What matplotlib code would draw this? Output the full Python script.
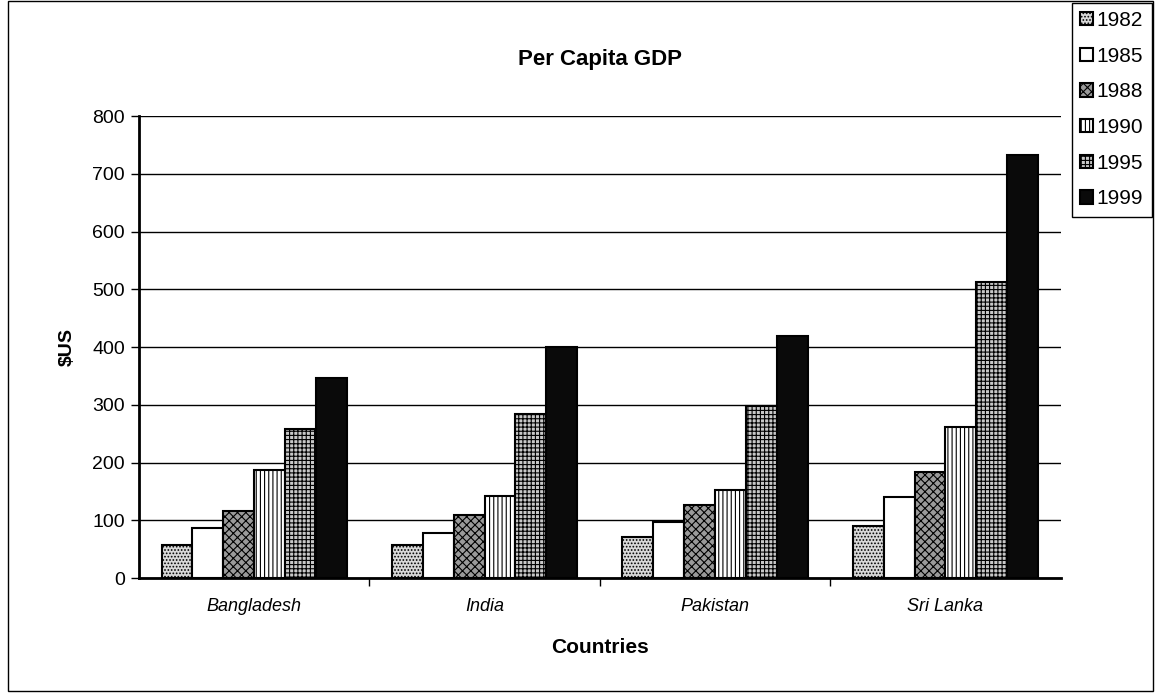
import numpy as np
import matplotlib.pyplot as plt
from matplotlib.patches import Rectangle

plt.rcParams['font.family'] = ['Liberation Sans', 'DejaVu Sans']
plt.rcParams['hatch.linewidth'] = 0.8

countries = ['Bangladesh', 'India', 'Pakistan', 'Sri Lanka']
years = ['1982', '1985', '1988', '1990', '1995', '1999']
gdp_1982 = [57, 57, 71, 90]
gdp_1985 = [86, 78, 97, 140]
gdp_1988 = [116, 110, 127, 183]
gdp_1990 = [187, 142, 153, 261]
gdp_1995 = [258, 284, 298, 512]
gdp_1999 = [347, 400, 420, 732]
series = [gdp_1982, gdp_1985, gdp_1988, gdp_1990, gdp_1995, gdp_1999]

# motifs façon Excel noir et blanc
styles = [
    dict(facecolor='#d8d8d8', hatch='.....'),
    dict(facecolor='white', hatch=None),
    dict(facecolor='#9a9a9a', hatch='xxxx'),
    dict(facecolor='white', hatch='||||'),
    dict(facecolor='#c8c8c8', hatch='++++'),
    dict(facecolor='#0a0a0a', hatch=None),
]

fig = plt.figure(figsize=(11.55, 6.99), dpi=100)
ax = fig.add_axes([0.1203, 0.173, 0.798, 0.661])

x = np.arange(len(countries))
width = 0.134
for i, (vals, st) in enumerate(zip(series, styles)):
    offs = (i - 2.5) * width
    ax.bar(x + offs, vals, width, label=years[i], edgecolor='black',
           linewidth=1.5, zorder=3, **st)

ax.set_ylim(0, 800)
ax.set_xlim(-0.5, 3.5)
ax.set_yticks(np.arange(0, 801, 100))
ax.yaxis.grid(True, color='black', linewidth=1)
ax.set_axisbelow(True)
ax.set_xticks(x)
ax.set_xticklabels(countries, fontsize=13, style='italic')
ax.set_xticks(np.arange(0.5, 3.5, 1), minor=True)
ax.tick_params(axis='x', which='major', length=0, pad=14)
ax.tick_params(axis='x', which='minor', length=6, width=1)
ax.tick_params(axis='y', labelsize=14, length=6, width=1, pad=4)

for s in ['top', 'right']:
    ax.spines[s].set_visible(False)
ax.spines['left'].set_linewidth(2)
ax.spines['bottom'].set_linewidth(2)

ax.set_title('Per Capita GDP', fontsize=16, fontweight='bold', pad=37)
ax.set_xlabel('Countries', fontsize=15, fontweight='bold', labelpad=17)
ax.set_ylabel('$US', fontsize=14, fontweight='bold', labelpad=12)

fig.legend(loc='upper right', bbox_to_anchor=(0.999, 0.999), fontsize=15,
           frameon=True, fancybox=False, edgecolor='black', framealpha=1,
           handlelength=0.6, handleheight=0.6, handletextpad=0.2,
           labelspacing=0.8, borderpad=0.4, borderaxespad=0.1)

fig.add_artist(Rectangle((0.007, 0.012), 0.991, 0.986, transform=fig.transFigure,
                         fill=False, edgecolor='black', linewidth=1))

plt.savefig('out.png', dpi=100)
